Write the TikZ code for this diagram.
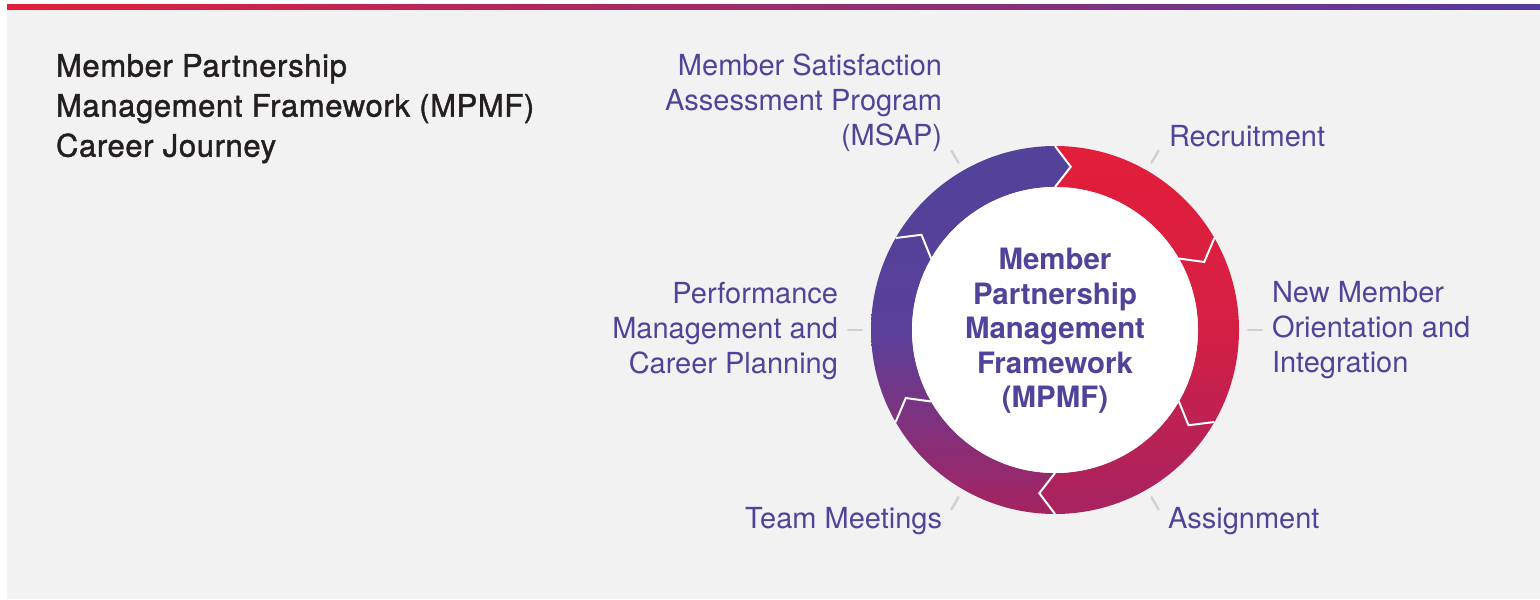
\documentclass[tikz,border=0pt]{standalone}
\usepackage{fontspec}
\setmainfont{TeX Gyre Heros}
\newfontfamily\titlefont[FakeBold=1.4, LetterSpace=2]{TeX Gyre Heros}

\definecolor{mpred}{HTML}{E31E3A}
\definecolor{mpcrimson}{HTML}{D41F44}
\definecolor{mpmagenta}{HTML}{A62361}
\definecolor{mppurple}{HTML}{52429A}
\definecolor{mpmauve}{HTML}{59409A}
\definecolor{mpbarpurple}{HTML}{553A9F}
\definecolor{mpgrey}{HTML}{F2F2F2}
\definecolor{mptick}{HTML}{D0D0D0}
\definecolor{mpdark}{HTML}{231F20}

\begin{document}
\begin{tikzpicture}[x=0.5pt,y=0.5pt,
    every node/.style={inner sep=0pt, outer sep=0pt},
    lbl/.style={text=mppurple, font=\fontsize{14.5}{17.5}\selectfont},
    tick/.style={draw=mptick, line width=1.2pt, line cap=round}]
    \useasboundingbox (0,0) rectangle (1540,-599);
    \fill[white] (0,0) rectangle (1540,-599);
    \fill[mpgrey] (7,-10) rectangle (1540,-599);
    \shade[left color=mpred, right color=mpbarpurple] (7,-5) rectangle (1540,-10);

    % title
    \node[anchor=north west, align=left, text=mpdark, font=\titlefont\fontsize{15.5}{20}\selectfont] (title) at (56,-54)
        {Member Partnership\\Management Framework (MPMF)\\Career Journey};

    % ring
    \begin{scope}[shift={(1055,-330)}]
        \shade[top color=mpred, bottom color=mpmagenta, middle color=mpcrimson]
            (90:184) arc[start angle=90, end angle=-90, radius=184] -- (-95.5:164) -- (-90:143)
            arc[start angle=-90, end angle=90, radius=143] -- (84.5:164) -- cycle;
        \shade[top color=mppurple, bottom color=mpmagenta, middle color=mpmauve]
            (90:184) arc[start angle=90, end angle=270, radius=184] -- (264.5:164) -- (270:143)
            arc[start angle=270, end angle=90, radius=143] -- (84.5:164) -- cycle;
        \foreach \a in {90,30,-30,-90,-150,150}
            \draw[white, line width=1pt, line join=miter] (\a:184) -- (\a-5.5:164) -- (\a:143);
        \fill[white] (0,0) circle[radius=143];
        \foreach \a in {120,60,0,-60,-120,180}
            \draw[tick] (\a:193) -- (\a:207);
    \end{scope}

    \node[align=center, text=mppurple, font=\bfseries\fontsize{14.7}{17.25}\selectfont] (hub) at (1055,-331)
        {Member\\Partnership\\Management\\Framework\\(MPMF)};

    % stages
    \node[lbl, anchor=north east, align=right] (msap) at (942,-54)
        {Member Satisfaction\\Assessment Program\\(MSAP)};
    \node[lbl, anchor=base west] (recruit) at (1169,-146) {Recruitment};
    \node[lbl, anchor=north west, align=left] (orient) at (1272,-281)
        {New Member\\Orientation and\\Integration};
    \node[lbl, anchor=base west] (assign) at (1168,-528) {Assignment};
    \node[lbl, anchor=base east] (meet) at (942,-528) {Team Meetings};
    \node[lbl, anchor=north east, align=right] (perf) at (838,-282)
        {Performance\\Management and\\Career Planning};
\end{tikzpicture}
\end{document}
